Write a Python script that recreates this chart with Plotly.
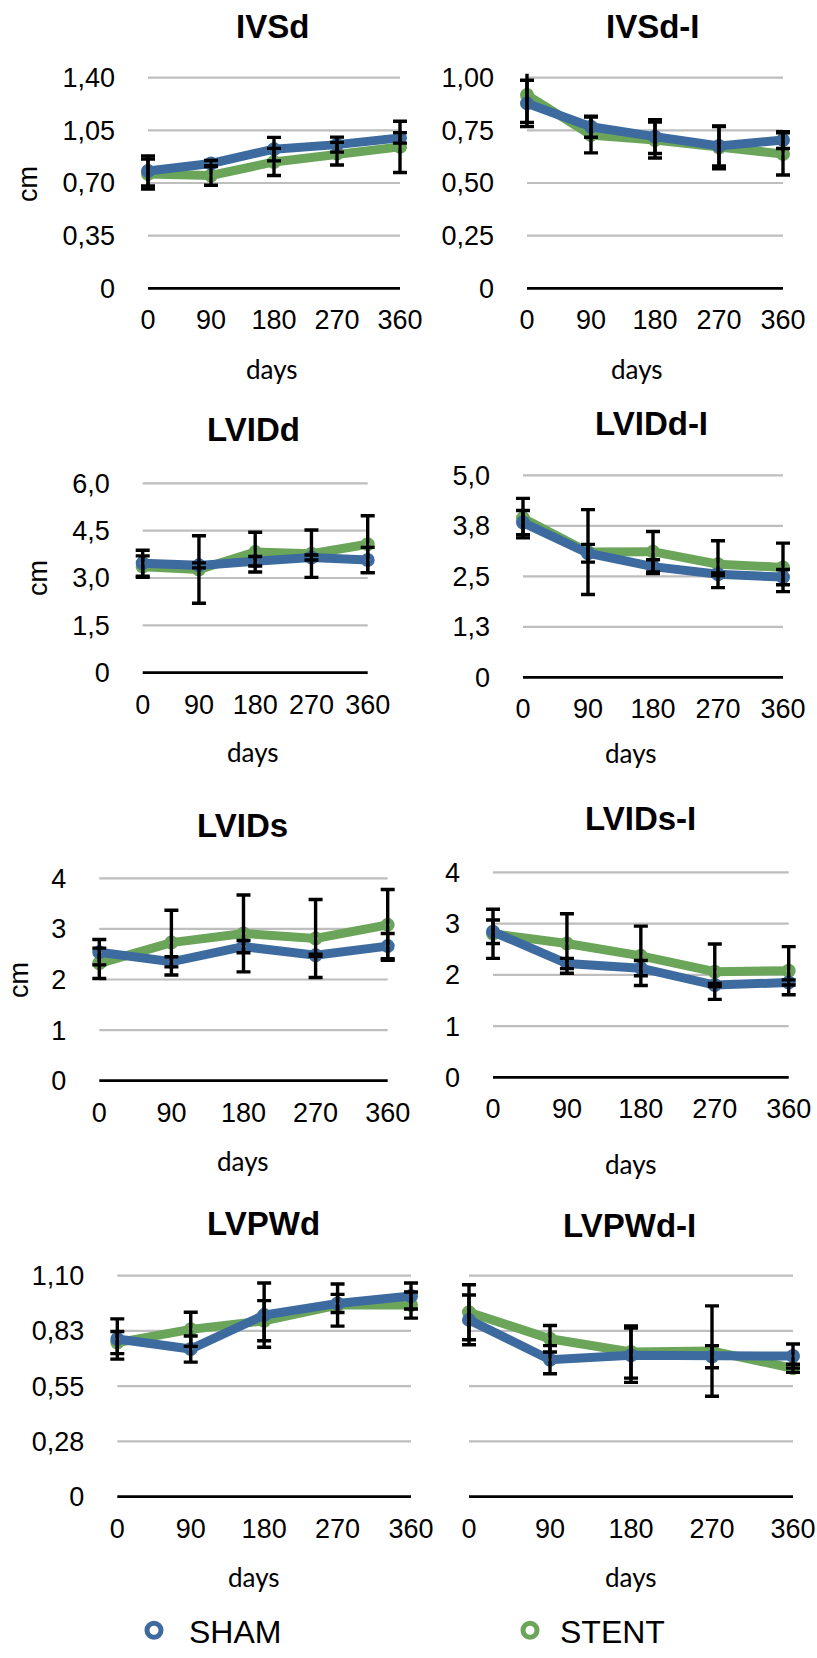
import plotly.graph_objects as go

W, H = 817, 1658

# ---------------- data ----------------
days = [0, 90, 180, 270, 360]
day_labels = ["0", "90", "180", "270", "360"]

ivsd_sham = [0.78, 0.83, 0.925, 0.955, 1.00]
ivsd_sham_err = [0.10, 0.02, 0.078, 0.05, 0.035]
ivsd_stent = [0.76, 0.75, 0.84, 0.895, 0.94]
ivsd_stent_err = [0.10, 0.065, 0.09, 0.075, 0.17]

ivsdi_sham = [0.878, 0.767, 0.72, 0.676, 0.704]
ivsdi_sham_err = [0.11, 0.05, 0.08, 0.095, 0.04]
ivsdi_stent = [0.918, 0.728, 0.704, 0.668, 0.638]
ivsdi_stent_err = [0.13, 0.085, 0.085, 0.10, 0.10]

lvidd_sham = [3.47, 3.40, 3.53, 3.65, 3.57]
lvidd_sham_err = [0.41, 0.08, 0.15, 0.08, 0.40]
lvidd_stent = [3.36, 3.27, 3.82, 3.77, 4.07]
lvidd_stent_err = [0.34, 1.07, 0.63, 0.75, 0.90]

lviddi_sham = [3.83, 3.07, 2.74, 2.55, 2.48]
lviddi_sham_err = [0.30, 0.22, 0.17, 0.03, 0.19]
lviddi_stent = [3.94, 3.10, 3.11, 2.80, 2.72]
lviddi_stent_err = [0.49, 1.05, 0.50, 0.58, 0.60]

lvids_sham = [2.54, 2.35, 2.65, 2.48, 2.66]
lvids_sham_err = [0.25, 0.10, 0.12, 0.02, 0.25]
lvids_stent = [2.32, 2.73, 2.91, 2.81, 3.08]
lvids_stent_err = [0.30, 0.64, 0.76, 0.77, 0.70]

lvidsi_sham = [2.84, 2.22, 2.13, 1.80, 1.85]
lvidsi_sham_err = [0.23, 0.10, 0.15, 0.03, 0.05]
lvidsi_stent = [2.80, 2.61, 2.37, 2.06, 2.08]
lvidsi_stent_err = [0.48, 0.58, 0.58, 0.54, 0.47]

lvpwd_sham = [0.785, 0.735, 0.904, 0.962, 0.999]
lvpwd_sham_err = [0.10, 0.065, 0.16, 0.045, 0.065]
lvpwd_stent = [0.767, 0.833, 0.876, 0.954, 0.954]
lvpwd_stent_err = [0.055, 0.085, 0.10, 0.105, 0.065]

lvpwdi_sham = [0.88, 0.682, 0.704, 0.697, 0.70]
lvpwdi_sham_err = [0.124, 0.07, 0.135, 0.055, 0.06]
lvpwdi_stent = [0.918, 0.786, 0.72, 0.725, 0.639]
lvpwdi_stent_err = [0.137, 0.066, 0.13, 0.225, 0.02]

titles = ["IVSd", "IVSd-I", "LVIDd", "LVIDd-I", "LVIDs", "LVIDs-I", "LVPWd", "LVPWd-I"]

ivsd_ticks = [0, 0.35, 0.70, 1.05, 1.40]
ivsd_ticktext = ["0", "0,35", "0,70", "1,05", "1,40"]
ivsdi_ticks = [0, 0.25, 0.50, 0.75, 1.00]
ivsdi_ticktext = ["0", "0,25", "0,50", "0,75", "1,00"]
lvidd_ticks = [0, 1.5, 3.0, 4.5, 6.0]
lvidd_ticktext = ["0", "1,5", "3,0", "4,5", "6,0"]
lviddi_ticks = [0, 1.25, 2.5, 3.75, 5.0]
lviddi_ticktext = ["0", "1,3", "2,5", "3,8", "5,0"]
lvids_ticks = [0, 1, 2, 3, 4]
lvids_ticktext = ["0", "1", "2", "3", "4"]
lvpwd_ticks = [0, 0.275, 0.55, 0.825, 1.10]
lvpwd_ticktext = ["0", "0,28", "0,55", "0,83", "1,10"]

series = [
    (ivsd_sham, ivsd_sham_err, ivsd_stent, ivsd_stent_err, ivsd_ticks, ivsd_ticktext),
    (ivsdi_sham, ivsdi_sham_err, ivsdi_stent, ivsdi_stent_err, ivsdi_ticks, ivsdi_ticktext),
    (lvidd_sham, lvidd_sham_err, lvidd_stent, lvidd_stent_err, lvidd_ticks, lvidd_ticktext),
    (lviddi_sham, lviddi_sham_err, lviddi_stent, lviddi_stent_err, lviddi_ticks, lviddi_ticktext),
    (lvids_sham, lvids_sham_err, lvids_stent, lvids_stent_err, lvids_ticks, lvids_ticktext),
    (lvidsi_sham, lvidsi_sham_err, lvidsi_stent, lvidsi_stent_err, lvids_ticks, lvids_ticktext),
    (lvpwd_sham, lvpwd_sham_err, lvpwd_stent, lvpwd_stent_err, lvpwd_ticks, lvpwd_ticktext),
    (lvpwdi_sham, lvpwdi_sham_err, lvpwdi_stent, lvpwdi_stent_err, lvpwd_ticks, lvpwd_ticktext),
]

# ---------------- layout (pixel boxes) ----------------
# data area: x of first/last point, y of top/bottom gridline
boxes = [
    (148, 400, 77.7, 288.3),
    (527, 783, 77.7, 288.3),
    (142.7, 367.7, 483.3, 672.7),
    (523, 783, 475.3, 677.3),
    (99.3, 387.7, 878.3, 1080.7),
    (493, 788.7, 872.3, 1077.3),
    (117.3, 411, 1275.7, 1496.7),
    (469, 793, 1275.7, 1496.7),
]
title_pos = [(272, 27), (653, 27), (253, 430), (651, 423),
             (242, 825), (640, 818), (263, 1223), (629, 1225)]
days_pos = [(272, 369), (637, 369), (253, 752), (631, 753),
            (243, 1161), (631, 1164), (254, 1577), (631, 1577)]
cm_pos = [(28, 184), (38, 578), (19, 980)]
show_ylabels = [True, True, True, True, True, True, True, False]
PAD = 12   # px horizontal room so edge error bars are not clipped
PADY = 4   # px vertical room so edge gridlines are not clipped

BLUE = "#3D6B9F"
GREEN = "#6BA55A"
FONT = "Liberation Sans, Arial, sans-serif"


def px(xp):
    return xp / W


def py(yp):
    return 1 - yp / H


fig = go.Figure()
annotations = []
layout_axes = {}

for i, (sham, sham_err, stent, stent_err, yt, ytt) in enumerate(series):
    n = i + 1
    xa = "x" if n == 1 else f"x{n}"
    ya = "y" if n == 1 else f"y{n}"
    x0, x1, yt0, yb0 = boxes[i]
    kx = (days[-1] - days[0]) / (x1 - x0)
    ky = (yt[-1] - yt[0]) / (yb0 - yt0)

    # gridlines + baseline spanning the data categories
    for v in yt:
        fig.add_shape(type="line", xref=xa, yref=ya,
                      x0=days[0], x1=days[-1], y0=v, y1=v, layer="below",
                      line=dict(color="black" if v == 0 else "#BEBEBE",
                                width=2.8 if v == 0 else 2.2))

    for name, vals, col in (("STENT", stent, GREEN), ("SHAM", sham, BLUE)):
        fig.add_trace(go.Scatter(
            x=days, y=vals, name=name, mode="lines+markers",
            line=dict(color=col, width=9),
            marker=dict(symbol="circle", size=9, color="white",
                        line=dict(color=col, width=5)),
            xaxis=xa, yaxis=ya, showlegend=False,
            cliponaxis=False, hoverinfo="skip"))
    for vals, err in ((stent, stent_err), (sham, sham_err)):
        fig.add_trace(go.Scatter(
            x=days, y=vals, mode="markers",
            marker=dict(size=1, color="rgba(0,0,0,0)"),
            error_y=dict(type="data", array=err, visible=True,
                         color="black", thickness=3.4, width=7),
            xaxis=xa, yaxis=ya, showlegend=False, cliponaxis=False,
            hoverinfo="skip"))

    kxa = "xaxis" if n == 1 else f"xaxis{n}"
    kya = "yaxis" if n == 1 else f"yaxis{n}"
    layout_axes[kxa] = dict(
        domain=[px(x0 - PAD), px(x1 + PAD)], anchor=ya,
        range=[days[0] - PAD * kx, days[-1] + PAD * kx],
        tickmode="array", tickvals=days, ticktext=day_labels,
        showgrid=False, zeroline=False, showline=False, ticks="",
        ticklabelstandoff=13 - PADY,
        tickfont=dict(family=FONT, size=27, color="black"))
    layout_axes[kya] = dict(
        domain=[py(yb0 + PADY), py(yt0 - PADY)], anchor=xa,
        range=[yt[0] - PADY * ky, yt[-1] + PADY * ky],
        tickmode="array", tickvals=yt, ticktext=ytt,
        showgrid=False, zeroline=False, showline=False, ticks="",
        showticklabels=show_ylabels[i], ticklabelstandoff=32 - PAD,
        tickfont=dict(family=FONT, size=27, color="black"))

    tx, ty = title_pos[i]
    annotations.append(dict(
        text=titles[i], x=px(tx), y=py(ty), xref="paper", yref="paper",
        showarrow=False, xanchor="center", yanchor="middle",
        font=dict(family=FONT, size=33, color="black", weight="bold")))
    dx, dy = days_pos[i]
    annotations.append(dict(
        text="days", x=px(dx), y=py(dy), xref="paper", yref="paper",
        showarrow=False, xanchor="center", yanchor="middle",
        font=dict(family="Lato, sans-serif", size=26, color="black")))

for cx, cy in cm_pos:
    annotations.append(dict(
        text="cm", x=px(cx), y=py(cy), xref="paper", yref="paper",
        showarrow=False, xanchor="center", yanchor="middle", textangle=-90,
        font=dict(family=FONT, size=27, color="black")))

# legend entries (marker-only keys, as in the reference)
for name, col, lg in (("SHAM", BLUE, "legend"), ("STENT", GREEN, "legend2")):
    fig.add_trace(go.Scatter(
        x=[None], y=[None], name=name, mode="markers",
        marker=dict(symbol="circle", size=14, color="white",
                    line=dict(color=col, width=6)),
        legend=lg, showlegend=True, hoverinfo="skip"))

legend_style = dict(orientation="h", yanchor="bottom", y=0, xanchor="left",
                    font=dict(family=FONT, size=32, color="black"),
                    bgcolor="rgba(0,0,0,0)", borderwidth=0)

fig.update_layout(
    width=W, height=H,
    margin=dict(l=0, r=0, t=0, b=0, autoexpand=False),
    paper_bgcolor="white", plot_bgcolor="white",
    showlegend=True,
    legend=dict(x=px(119), itemwidth=60, **legend_style),
    legend2=dict(x=px(500), itemwidth=50, **legend_style),
    annotations=annotations,
    **layout_axes)

fig.write_html("out.html")
